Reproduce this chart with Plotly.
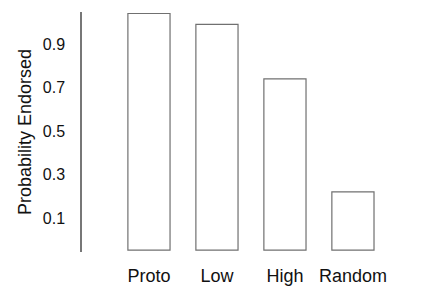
import plotly.graph_objects as go

categories = ["Proto", "Low", "High", "Random"]
endorsed = [1.04, 0.99, 0.74, 0.22]
y_ticks = [0.1, 0.3, 0.5, 0.7, 0.9]
y_tick_labels = ["0.1", "0.3", "0.5", "0.7", "0.9"]

Y_MIN, Y_MAX = -0.056, 1.047
BASE = -0.047

fig = go.Figure()
fig.add_trace(go.Bar(
    x=categories,
    y=[v - BASE for v in endorsed],
    base=BASE,
    width=0.62,
    marker=dict(color="white", line=dict(color="#707070", width=1.2)),
    showlegend=False,
    hoverinfo="skip",
))

# the page body adds an 8px offset, so the figure is sized to fit the window
fig.update_layout(
    width=417, height=278,
    margin=dict(l=74, r=0, t=4, b=34),
    paper_bgcolor="white", plot_bgcolor="white",
    font=dict(family="Liberation Sans, Arial, sans-serif", color="#111111"),
)
fig.update_xaxes(
    type="category", range=[-0.985, 4.06],
    showline=False, showgrid=False, zeroline=False, ticks="",
    tickfont=dict(size=18), automargin=False, ticklabelstandoff=11,
)
fig.update_yaxes(
    range=[Y_MIN, Y_MAX],
    tickvals=y_ticks, ticktext=y_tick_labels,
    showline=True, linecolor="#777777", linewidth=1.5,
    showgrid=False, zeroline=False, ticks="",
    ticklabelstandoff=12, automargin=False,
    tickfont=dict(size=16),
    title=dict(text="Probability Endorsed", font=dict(size=18), standoff=6),
)

fig.write_html("out.html")
